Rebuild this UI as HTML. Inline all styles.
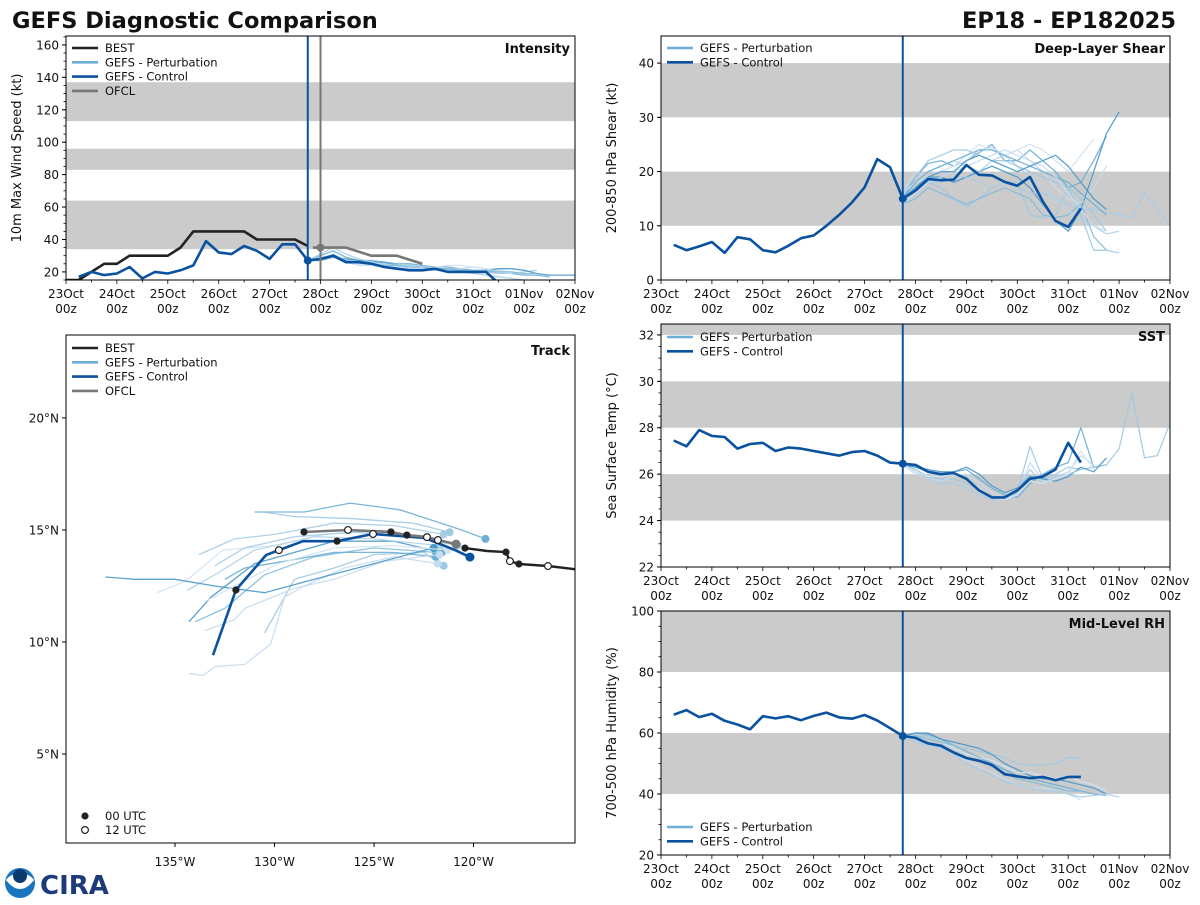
<!DOCTYPE html>
<html><head><meta charset="utf-8">
<style>
html,body{margin:0;padding:0;background:#fff;}
body{width:1200px;height:900px;overflow:hidden;font-family:"Liberation Sans","DejaVu Sans",sans-serif;}
svg text{font-family:"DejaVu Sans","Liberation Sans",sans-serif;}
</style></head>
<body>
<svg id="fig" width="1200" height="900" viewBox="0 0 1200 900" xmlns="http://www.w3.org/2000/svg">
<text x="12" y="28" font-size="22.5" font-weight="bold" fill="#111">GEFS Diagnostic Comparison</text>
<text x="1176" y="28" font-size="22.5" font-weight="bold" fill="#111" text-anchor="end">EP18 - EP182025</text>
<g>
<circle cx="20" cy="883" r="15" fill="#1a75c0"/>
<path d="M6 880 Q20 898 34 880 Q28 872 20 876 Q12 872 6 880Z" fill="#fff"/>
<circle cx="20" cy="876" r="7" fill="#0b3a6e"/>
<text x="40" y="894" font-size="26" font-weight="bold" fill="#1d3b7a" font-family="Liberation Serif,serif">CIRA</text>
</g>
</svg>
<script>
// ---------- data ----------
const dayLabels = ['23Oct','24Oct','25Oct','26Oct','27Oct','28Oct','29Oct','30Oct','31Oct','01Nov','02Nov'];
const initTime = 4.75;
const ofclInitTime = 5.0;
// intensity (kt), 6-hourly
const bestStart = 0;
const bestInt = [15,15,20,25,25,30,30,30,30,35,45,45,45,45,45,40,40,40,40,36];
const ctlStart = 0.25;
const ctlInt = [17,20,18,19,23,16,20,19,21,24,39,32,31,36,33,28,37,37,27,28,30,26,26,25,23,22,21,21,22,20,20,20,20,13];
const ofclTimes = [4.85,5.0,5.5,6.0,6.5,7.0];
const ofclInt = [35,35,35,30,30,25];
const ensInt = [
 [27,30,33,29,27,27,26,25,25,24,23,23,22,21,20,20,19,18,18,17],
 [27,28,31,27,25,25,24,23,22,22,22,21,21,21,20,19,19,20,21],
 [27,29,30,26,24,24,23,23,22,21,21,22,22,23,22,21,20,19],
 [27,27,29,28,27,26,26,24,23,22,22,22,21,20,21,22,22,21,19,18,18,18],
 [27,31,35,31,28,26,25,24,24,23,22,21,20,19,18,17,16,15],
 [27,29,30,27,25,24,24,23,23,22,23,24,24,23,22,20,19],
 [27,28,29,27,26,25,24,24,23,23,22,22,21,21,21,20,20,19,19]
];
// shear (kt)
const ctlShear = [6.5,5.5,6.2,7,5,7.9,7.5,5.5,5.1,6.3,7.7,8.2,10,12,14.3,17.1,22.3,20.8,15,16.5,18.6,18.4,18.5,21.2,19.4,19.3,18.1,17.4,19.0,14.5,10.9,9.8,13.2];
const ensShear = [
 [15,19,21.5,22,21,22,23.5,25,22,22,24,22,20,17,18,22,26.5],
 [14,16,18,17,15,13.5,15,17,18,18,12,11.5,12,17,12,5.5,5.5,5],
 [16,20,19,20,21,22,24,24.5,23,24,22,20,17,15,14,17,21],
 [15,17,19,19,18,19,20,21,20,19,17,14,11,9,13,20,27,31],
 [15,17,18,18,19,19,18,17,18,17,16,16,15,14,13,13,12.5,12,11.5,16,13,10],
 [16,18,19,20,21,23,25,24,23,24,25,24,22,20,23,26],
 [14,15,17,16,15,14,15,16,17,16,15,12,11.5,12,14,8,5.5],
 [15,18,20,21,22,21,20,22,23,21,19,17,15,13,11,10,8.5,9],
 [15,18,20,21,22,23,24,24,23,22,21,20,19,18,16,14,12],
 [16,19,22,23,24,24,23,22,22,21,20,19,18,17,15,12,9],
 [14,16,18,19,20,21,22,23,24,23,22,21,19,16,13,10,9],
 [15,17,19,20,20,22,23,22,21,20,21,22,23,21,18,15,13]
];
// SST (C)
const ctlSst = [27.45,27.2,27.9,27.65,27.6,27.1,27.3,27.35,27.0,27.15,27.1,27.0,26.9,26.8,26.95,27.0,26.8,26.5,26.45,26.4,26.1,26.0,26.05,25.8,25.3,25.0,25.0,25.3,25.8,25.9,26.2,27.35,26.5];
const ensSst = [
 [26.4,26.3,26.1,26.0,26.1,26.2,25.8,25.4,25.1,25.0,25.6,26.0,26.3,26.5,28.0,26.3,26.4],
 [26.4,26.2,25.9,25.8,25.8,25.6,25.3,25.0,24.9,25.2,27.2,25.8,26.0,26.3,26.2,26.3,26.4,27.1,29.5,26.7,26.8,28.2],
 [26.4,26.0,25.8,25.7,25.9,26.0,25.6,25.2,25.0,25.1,26.5,25.7,25.9,26.1,26.8,26.4],
 [26.4,26.3,26.2,26.1,26.1,26.3,26.0,25.5,25.2,25.4,25.9,25.8,25.7,25.9,26.3,26.1,26.7],
 [26.5,26.1,25.8,25.6,25.6,25.4,25.1,24.9,25.0,25.3,26.2,25.6,25.9,26.0,26.2],
 [26.4,26.1,25.9,25.9,26.0,25.8,25.4,25.0,24.9,25.1,25.7,25.6,25.8,26.0,27.0,26.2]
];
// RH (%)
const ctlRh = [66,67.5,65.2,66.3,64,62.8,61.2,65.5,64.8,65.5,64.2,65.6,66.7,65.1,64.7,65.9,64.1,61.6,59,58.4,56.6,55.8,53.6,51.8,50.9,49.5,46.5,45.8,45.2,45.6,44.5,45.6,45.6];
const ensRh = [
 [59,60,59.5,58,56,54,52,50,48,46,45,44,43,42,41,40,39.5],
 [59,59,59,57,55,55,54,53,52,50,49.5,49.5,50,52,51.5],
 [59,58,57,55,53,51,49,47,45,43,42,42,41,40,38],
 [59,60,60,58,57,56,55,53,50,48,46,45,45,44,43,42,40],
 [59,57,56,55,53,50,48,46,44,43,42,41,41,40,39,39.5,40,39],
 [59,58,58,57,55,53,52,51,49,47,47,46,45,46,44,43,41],
 [59,59,58,57,56,54,52,49,47,45,44,43,42,41,41,40]
];
// track (lon, lat)
const bestTrack = [[-114.9,13.25],[-116.26,13.39],[-117.72,13.48],[-118.17,13.61],[-118.37,14.01],[-119.32,14.06],[-120.43,14.19]];
const ctlTrack = [[-120.18,13.79],[-120.93,14.10],[-122.44,14.64],[-125.05,14.82],[-126.86,14.50],[-128.57,14.50],[-129.78,14.10],[-130.43,13.88],[-131.94,12.32],[-133.09,9.41]];
const ofclTrack = [[-120.88,14.37],[-121.79,14.55],[-122.34,14.68],[-123.35,14.77],[-124.15,14.91],[-126.31,15.0],[-128.52,14.91]];
const filledMarks = [[-120.43,14.19],[-118.37,14.01],[-117.72,13.48],[-123.35,14.77],[-124.15,14.91],[-128.52,14.91],[-126.86,14.50],[-131.94,12.32]];
const openMarks = [[-116.26,13.39],[-118.17,13.61],[-121.79,14.55],[-122.34,14.68],[-125.05,14.82],[-126.31,15.0],[-129.78,14.10]];
const ensTrack = [
 [[-119.4,14.6],[-120.6,15.0],[-123.7,15.9],[-126.2,16.2],[-128.5,15.8],[-131.0,15.8]],
 [[-121.5,13.4],[-122.5,14.0],[-125,13.9],[-127,13.3],[-129,12.8],[-130.5,10.4]],
 [[-121.8,13.5],[-124,13.8],[-126.5,13.3],[-128.5,12.5],[-129.5,12.0],[-130.2,9.9],[-131.5,9.0],[-133,8.9],[-133.6,8.5],[-134.3,8.6]],
 [[-121.6,14.0],[-124,14.5],[-127,14.5],[-129,14.0],[-131,13.5],[-133.2,12.0],[-134.3,10.9]],
 [[-121.5,14.8],[-124,15.2],[-127,15.3],[-130,14.8],[-132,14.6],[-133.8,13.9]],
 [[-121.8,14.5],[-124.5,15.0],[-127.5,14.8],[-130,14.3],[-132.6,14.1],[-134.5,12.7],[-135.9,12.2]],
 [[-121.9,14.0],[-125,14.2],[-128,13.8],[-130.5,13.0],[-132.5,11.5],[-134,10.9]],
 [[-121.7,14.3],[-125,14.6],[-128,14.7],[-131,14.1],[-133,13.0],[-134.4,12.3]],
 [[-121.9,13.8],[-124,14.0],[-127,14.0],[-129.5,13.6],[-131.5,13.3],[-132.5,12.8]],
 [[-121.2,14.9],[-123,15.3],[-126,15.5],[-129,15.6],[-130.6,15.8]],
 [[-121.7,13.9],[-124.5,13.6],[-127,12.8],[-129,12.4],[-131.5,11.5],[-132,11.0],[-133.5,10.5]],
 [[-122,14.2],[-125,13.5],[-128,12.8],[-130.5,12.2],[-133,12.5],[-135,12.8],[-137,12.8],[-138.5,12.9]],
 [[-120.8,14.3],[-123,14.7],[-126,14.9],[-129,14.7],[-131.5,14.2],[-133,13.4]],
 [[-121.3,14.1],[-124,14.3],[-127,14.2],[-129.8,13.5],[-131.8,12.6],[-133.5,11.8]]
];
const lonTicks = [-135,-130,-125,-120];
const latTicks = [5,10,15,20];

// ---------- drawing ----------
const NS='http://www.w3.org/2000/svg';
const fig=document.getElementById('fig');
const ensColors=['#6baed6','#9ecae1','#c6dbef','#4a98c9','#a6cde5','#d2e4f3','#82bbdc','#b3d3e8'];
const CTL='#0a52a0', BLK='#222', OFC='#777';
function mk(parent,tag,attrs){const e=document.createElementNS(NS,tag);for(const k in attrs)e.setAttribute(k,attrs[k]);parent.appendChild(e);return e;}
function txt(parent,x,y,s,size,anchor,extra){const t=mk(parent,'text',Object.assign({x:x,y:y,'font-size':size,fill:'#111','text-anchor':anchor||'start'},extra||{}));t.textContent=s;return t;}
function poly(g,pts,color,w,op){return mk(g,'polyline',{points:pts.map(p=>p[0].toFixed(1)+','+p[1].toFixed(1)).join(' '),fill:'none',stroke:color,'stroke-width':w,'stroke-opacity':op||1,'stroke-linejoin':'round'});}

function timePanel(name,x0,y0,w,h,ymin,ymax,bands,yt,ytMinor,ylabel,title,showXLabels){
  const g=mk(fig,'g',{});
  
  
  const sx=t=>x0+t/10*w, sy=v=>y0+h-(v-ymin)/(ymax-ymin)*h;
  const clip=mk(fig,'clipPath',{id:'clip-'+name});mk(clip,'rect',{x:x0,y:y0,width:w,height:h});
  bands.forEach(b=>{const r=mk(g,'rect',{x:x0,y:sy(Math.min(b[1],ymax)),width:w,height:sy(b[0])-sy(Math.min(b[1],ymax)),fill:'#cbcbcb'});
    
    });
  const plot=mk(g,'g',{'clip-path':'url(#clip-'+name+')'});
  for(let v=ytMinor[0];v<=ymax;v+=ytMinor[1]){mk(g,'line',{x1:x0-2.5,x2:x0,y1:sy(v),y2:sy(v),stroke:'#000','stroke-width':0.8});}
  yt.forEach(v=>{mk(g,'line',{x1:x0-4,x2:x0,y1:sy(v),y2:sy(v),stroke:'#000','stroke-width':1});
    const t=txt(g,x0-7,sy(v)+4.5,String(v),12,'end');
    
    });
  for(let d=0;d<=10;d+=0.5){mk(g,'line',{x1:sx(d),x2:sx(d),y1:y0+h,y2:y0+h+(d%1===0?4:2.5),stroke:'#000','stroke-width':0.8});}
  if(showXLabels){dayLabels.forEach((s,i)=>{const t=txt(g,sx(i),y0+h+18,s,12,'middle');
    
    
    txt(g,sx(i),y0+h+33,'00z',12,'middle');});}
  const yl=txt(g,0,0,ylabel,13,'middle',{transform:'translate('+(x0-45)+','+(y0+h/2)+') rotate(-90)'});
  
  
  const tt=txt(g,x0+w-5,y0+17,title,13,'end',{'font-weight':'bold'});
  
  
  return {g,plot,sx,sy,x0,y0,w,h};
}
function frame(p){mk(p.g,'rect',{x:p.x0,y:p.y0,width:p.w,height:p.h,fill:'none',stroke:'#000','stroke-width':1});}
function series(p,start,vals){return vals.map((v,i)=>[p.sx(start+i*0.25),p.sy(v)]);}
function legend(g,x,y,items){items.forEach((it,i)=>{const yy=y+i*14.3;
  const l=mk(g,'line',{x1:x,x2:x+26,y1:yy,y2:yy,stroke:it[1],'stroke-width':2.6});
  
  
  const t=txt(g,x+33,yy+4,it[0],11.5);
  
  });}
function vline(p,t,color){const l=mk(p.g,'line',{x1:p.sx(t),x2:p.sx(t),y1:p.y0,y2:p.y0+p.h,stroke:color,'stroke-width':2});
  
  }
function drawEns(p,ens){ens.forEach((m,k)=>{const pl=poly(p.plot,series(p,initTime,m),ensColors[k%ensColors.length],1.3,0.9);
  
  });}
function drawCtl(p,start,vals){const pl=poly(p.plot,series(p,start,vals),CTL,2.6);
  
  
  const idx=Math.round((initTime-start)/0.25);
  const c=mk(p.plot,'circle',{cx:p.sx(initTime),cy:p.sy(vals[idx]),r:4,fill:CTL});
  
  }

// Intensity
const pI=timePanel('intensity',66,36,509,244,15,165.5,[[34,64],[83,96],[113,137]],[20,40,60,80,100,120,140,160],[15,5],'10m Max Wind Speed (kt)','Intensity',true);
drawEns(pI,ensInt);
let bl=poly(pI.plot,series(pI,bestStart,bestInt),BLK,2.6);


let ol=poly(pI.plot,ofclTimes.map((t,i)=>[pI.sx(t),pI.sy(ofclInt[i])]),OFC,2.6);


drawCtl(pI,ctlStart,ctlInt);
vline(pI,initTime,CTL);vline(pI,ofclInitTime,'#777');
let od=mk(pI.plot,'circle',{cx:pI.sx(ofclInitTime),cy:pI.sy(ofclInt[1]),r:4,fill:OFC});


frame(pI);
legend(pI.g,72,48,[['BEST',BLK],['GEFS - Perturbation','#6baed6'],['GEFS - Control',CTL],['OFCL',OFC]]);

// Shear
const pS=timePanel('shear',661,36,509,244,0,45,[[10,20],[30,40]],[0,10,20,30,40],[0,10],'200-850 hPa Shear (kt)','Deep-Layer Shear',true);
drawEns(pS,ensShear);drawCtl(pS,ctlStart,ctlShear);vline(pS,initTime,CTL);frame(pS);
legend(pS.g,667,48,[['GEFS - Perturbation','#6baed6'],['GEFS - Control',CTL]]);

// SST
const pT=timePanel('sst',661,324,509,243,22,32.47,[[24,26],[28,30],[32,33]],[22,24,26,28,30,32],[22,0.5],'Sea Surface Temp (°C)','SST',true);
drawEns(pT,ensSst);drawCtl(pT,ctlStart,ctlSst);vline(pT,initTime,CTL);frame(pT);
legend(pT.g,667,337,[['GEFS - Perturbation','#6baed6'],['GEFS - Control',CTL]]);

// RH
const pR=timePanel('rh',661,611,509,244,20,100,[[40,60],[80,100]],[20,40,60,80,100],[20,5],'700-500 hPa Humidity (%)','Mid-Level RH',true);
drawEns(pR,ensRh);drawCtl(pR,ctlStart,ctlRh);vline(pR,initTime,CTL);frame(pR);
legend(pR.g,667,827,[['GEFS - Perturbation','#6baed6'],['GEFS - Control',CTL]]);

// Track
(function(){
  const x0=66,y0=335,w=509,h=508,lonMin=-140.48,lonMax=-114.9,latMin=1.03,latMax=23.7;
  const g=mk(fig,'g',{});
  
  
  const sx=l=>x0+(l-lonMin)/(lonMax-lonMin)*w, sy=l=>y0+h-(l-latMin)/(latMax-latMin)*h;
  const clip=mk(fig,'clipPath',{id:'clip-track'});mk(clip,'rect',{x:x0,y:y0,width:w,height:h});
  const plot=mk(g,'g',{'clip-path':'url(#clip-track)'});
  const P=a=>a.map(p=>[sx(p[0]),sy(p[1])]);
  ensTrack.forEach((m,k)=>{const pl=poly(plot,P(m),ensColors[k%ensColors.length],1.3,0.9);
    
    
    mk(plot,'circle',{cx:sx(m[0][0]),cy:sy(m[0][1]),r:4,fill:ensColors[k%ensColors.length]});});
  let b=poly(plot,P(bestTrack),BLK,2.4);
  
  
  let c=poly(plot,P(ctlTrack),CTL,2.6);
  
  
  let o=poly(plot,P(ofclTrack),OFC,2.6);
  
  
  mk(plot,'circle',{cx:sx(ctlTrack[0][0]),cy:sy(ctlTrack[0][1]),r:4.5,fill:CTL});
  mk(plot,'circle',{cx:sx(ofclTrack[0][0]),cy:sy(ofclTrack[0][1]),r:4.5,fill:OFC});
  filledMarks.forEach(p=>{const m=mk(plot,'circle',{cx:sx(p[0]),cy:sy(p[1]),r:3.6,fill:BLK});
    
    });
  openMarks.forEach(p=>{const m=mk(plot,'circle',{cx:sx(p[0]),cy:sy(p[1]),r:3.4,fill:'#fff',stroke:BLK,'stroke-width':1.2});
    
    });
  mk(g,'rect',{x:x0,y:y0,width:w,height:h,fill:'none',stroke:'#000','stroke-width':1});
  lonTicks.forEach(l=>{mk(g,'line',{x1:sx(l),x2:sx(l),y1:y0+h,y2:y0+h+4,stroke:'#000'});
    const t=txt(g,sx(l),y0+h+23,(-l)+'°W',12,'middle');
    
    });
  latTicks.forEach(l=>{mk(g,'line',{x1:x0-4,x2:x0,y1:sy(l),y2:sy(l),stroke:'#000'});
    const t=txt(g,x0-7,sy(l)+4.5,l+'°N',12,'end');
    
    });
  const tt=txt(g,x0+w-5,y0+20,'Track',13,'end',{'font-weight':'bold'});
  
  
  legend(g,72,348,[['BEST',BLK],['GEFS - Perturbation','#6baed6'],['GEFS - Control',CTL],['OFCL',OFC]]);
  mk(g,'circle',{cx:85,cy:816,r:3.6,fill:BLK});
  let l1=txt(g,105,820,'00 UTC',11.5);
  
  
  mk(g,'circle',{cx:85,cy:830,r:3.4,fill:'#fff',stroke:BLK,'stroke-width':1.2});
  let l2=txt(g,105,834,'12 UTC',11.5);
  
  
})();
</script>
</body></html>
